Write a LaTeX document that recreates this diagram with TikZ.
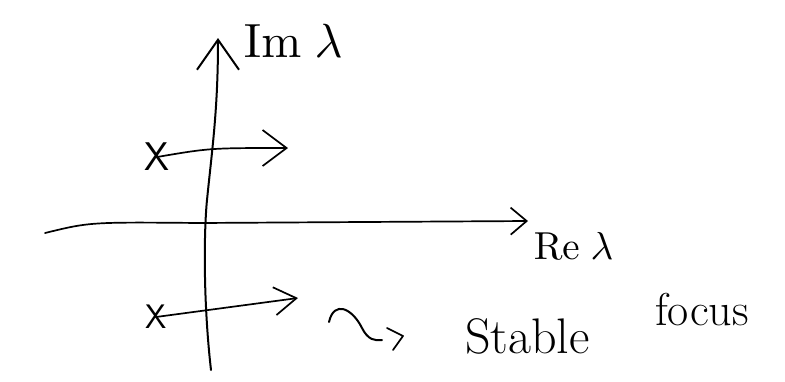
\documentclass[tikz,border=0pt]{standalone}
\usepackage{amsmath}
\usepackage{tikz}
\usetikzlibrary{arrows.meta,positioning}

\begin{document}
\begin{tikzpicture}[
    x=1pt, y=-1pt,
    pen/.style={line width=1.7pt, line cap=round, line join=round},
    axisline/.style={pen, -{Straight Barb[length=16pt, width=27pt]}},
    flow/.style={pen, -{Straight Barb[length=24pt, width=36pt]}},
    root/.style={font=\fontsize{40}{46}\selectfont\sffamily, inner sep=0pt},
    lbl/.style={inner sep=0pt, anchor=base west}
]
\useasboundingbox (0,0) rectangle (785,381);

% axes
\coordinate (imbot) at (211,370);
\coordinate (imtop) at (218,38);
\draw[pen, line width=2pt, -{Straight Barb[length=30pt, width=42pt]}]
    (imbot) .. controls (203,300) and (204,230) .. (207,200)
    .. controls (212,150) and (218,110) .. (imtop);
\coordinate (rebeg) at (45,233);
\coordinate (retip) at (528,221);
\draw[axisline] (rebeg) .. controls (90,222) .. (200,223) -- (retip);

\node[lbl, scale=4.8] (imlab) at (243,57) {$\mathrm{Im}\;\lambda$};
\node[lbl, scale=3.9] (relab) at (533,259) {$\mathrm{Re}\;\lambda$};

% roots
\node[root] (xup) at (157,157) {X};
\node[root, font=\fontsize{34}{40}\selectfont\sffamily] (xlow) at (156,317) {X};
\coordinate (tipup) at (288,148);
\coordinate (tiplow) at (298,298);
\draw[flow] (xup.center) .. controls (210,148) .. (tipup);
\draw[flow, -{Straight Barb[length=22pt, width=28pt]}] (xlow.center) -- (tiplow);

% leads to
\draw[pen, line width=2pt] (329,322) .. controls (334,300) and (352,308) .. (362,328)
    .. controls (368,340) and (375,341) .. (382,340);
\draw[pen] (387,328) -- (403,336) -- (393,350);

\node[lbl, font=\fontsize{50}{56}\selectfont] (stab) at (465,353) {Stable};
\node[lbl, font=\fontsize{46}{52}\selectfont] (focus) at (655,325) {focus};
\end{tikzpicture}
\end{document}
